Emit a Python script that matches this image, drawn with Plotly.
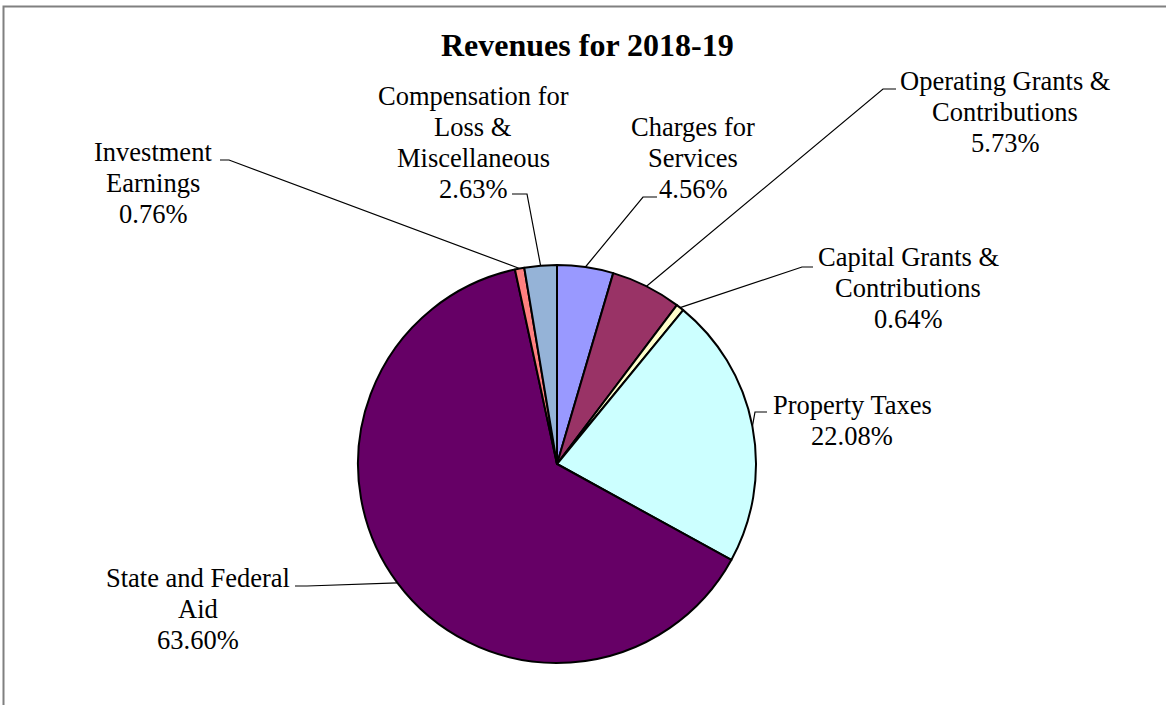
import math
import plotly.graph_objects as go

# slices, clockwise from 12 o'clock
categories = ["Charges for Services", "Operating Grants & Contributions",
              "Capital Grants & Contributions", "Property Taxes",
              "State and Federal Aid", "Investment Earnings",
              "Compensation for Loss & Miscellaneous"]
shares = [4.56, 5.73, 0.64, 22.08, 63.60, 0.76, 2.63]
label_lines = [["Charges for", "Services"],
               ["Operating Grants &", "Contributions"],
               ["Capital Grants &", "Contributions"],
               ["Property Taxes"],
               ["State and Federal", "Aid"],
               ["Investment", "Earnings"],
               ["Compensation for", "Loss &", "Miscellaneous"]]
colors = ["#9999FF", "#993366", "#FFFFCC", "#CCFFFF", "#660066", "#FF8080", "#95B3D7"]

W, H = 1166, 705
cx, cy, r = 557, 464, 199
FONT = "Liberation Serif, Times New Roman, serif"

# label placement (pixels): text centre x, first line y, stub start, stub end
label_pos = [
    (693, 127, (657, 197), (643, 197)),
    (1005, 81, (896, 89), (883, 89)),
    (908, 257, (813, 267), (802, 267)),
    (852, 405, (767, 412), (755, 412)),
    (198, 578, (295, 586), (307, 586)),
    (153, 152, (220, 160), (229, 160)),
    (473, 96, (512, 194), (527, 194)),
]
line_gap = 31

fig = go.Figure()
fig.add_trace(go.Pie(
    values=shares, labels=categories, sort=False, direction="clockwise",
    marker=dict(colors=colors, line=dict(color="black", width=2)),
    textinfo="none", hoverinfo="label+percent", showlegend=False,
    domain=dict(x=[(cx - r) / W, (cx + r) / W], y=[1 - (cy + r) / H, 1 - (cy - r) / H]),
))

annotations = []
shapes = []
total = sum(shares)
cum = 0
for v, lines, (tx, ty, a, b) in zip(shares, label_lines, label_pos):
    mid = (cum + v / 2) / total * 2 * math.pi
    cum += v
    ex, ey = cx + r * math.sin(mid), cy - r * math.cos(mid)
    shapes.append(dict(type="path", xref="x", yref="y",
                       path=f"M {a[0]} {a[1]} L {b[0]} {b[1]} L {ex:.1f} {ey:.1f}",
                       line=dict(color="black", width=1.2)))
    for i, t in enumerate(lines + [f"{v:.2f}%"]):
        annotations.append(dict(x=tx, y=ty + i * line_gap, xref="x", yref="y", text=t,
                                showarrow=False, xanchor="center", yanchor="middle",
                                font=dict(family=FONT, size=26.5, color="black")))

annotations.append(dict(x=587, y=45, xref="x", yref="y", text="<b>Revenues for 2018-19</b>",
                        showarrow=False, xanchor="center", yanchor="middle",
                        font=dict(family=FONT, size=32, color="black")))

# outer chart border
shapes.append(dict(type="rect", xref="paper", yref="paper",
                   x0=3.5 / W, y0=-0.02, x1=1.02, y1=1 - 6.5 / H,
                   line=dict(color="#808080", width=2)))

fig.update_layout(
    width=W, height=H, margin=dict(l=0, r=0, t=0, b=0),
    paper_bgcolor="white", plot_bgcolor="white",
    xaxis=dict(range=[0, W], visible=False, fixedrange=True),
    yaxis=dict(range=[H, 0], visible=False, fixedrange=True),
    annotations=annotations, shapes=shapes,
)

fig.write_html("out.html", config={"displayModeBar": False},
               post_script="document.body.style.margin='0';")
